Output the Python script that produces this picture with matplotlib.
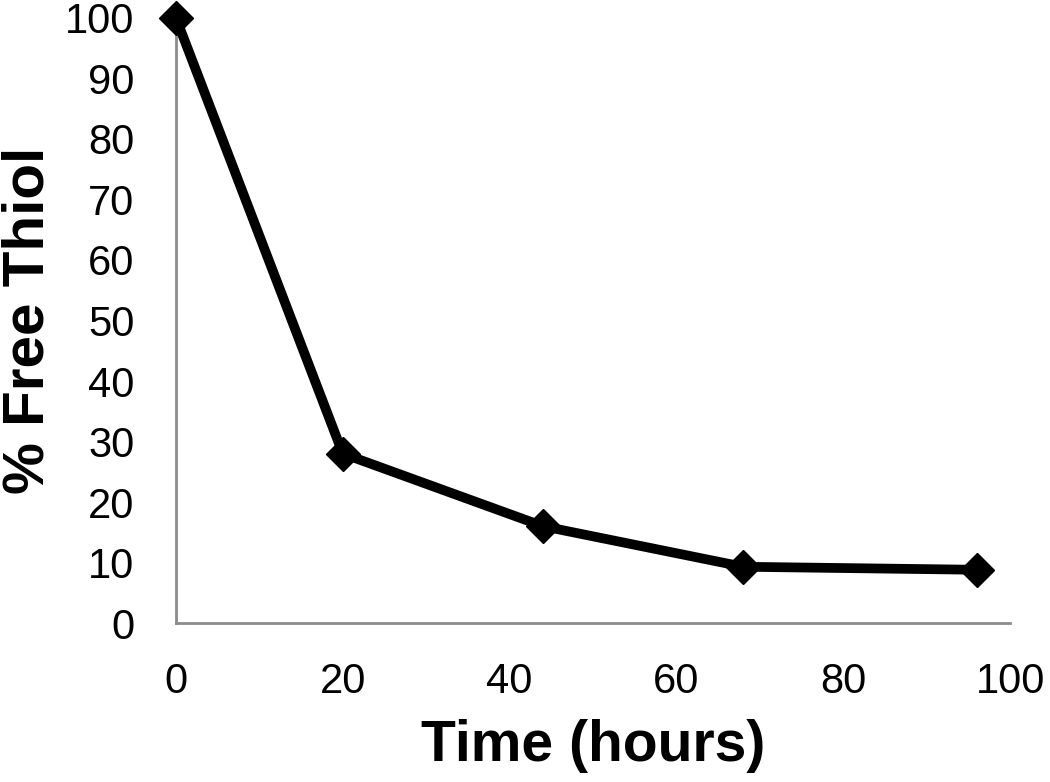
import matplotlib
matplotlib.use('Agg')
import matplotlib.pyplot as plt

# --- data ---
time_hours = [0, 20, 44, 68, 96]
free_thiol = [100, 28, 16, 9.3, 8.8]
x_ticks = [0, 20, 40, 60, 80, 100]
y_ticks = [0, 10, 20, 30, 40, 50, 60, 70, 80, 90, 100]

plt.rcParams['font.family'] = ['Liberation Sans', 'DejaVu Sans']

fig = plt.figure(figsize=(10.5, 7.82), dpi=100)
ax = fig.add_axes([0.1676, 0.2033, 0.7944, 0.7737])

ax.plot(time_hours, free_thiol, color='black', lw=7, marker='D', ms=17,
        clip_on=False, zorder=3)

ax.set_xlim(0, 100)
ax.set_ylim(0, 100)
ax.set_xticks(x_ticks)
ax.set_yticks(y_ticks)
ax.tick_params(axis='both', length=0, labelsize=30)
ax.tick_params(axis='y', pad=30)
ax.tick_params(axis='x', pad=28)

for side in ['top', 'right']:
    ax.spines[side].set_visible(False)
for side in ['left', 'bottom']:
    ax.spines[side].set_color('#8c8c8c')
    ax.spines[side].set_linewidth(2)

ax.set_xlabel('Time (hours)', fontsize=41, fontweight='bold')
ax.set_ylabel('% Free Thiol', fontsize=42, fontweight='bold')
# place the axis titles where the reference has them
ax.xaxis.set_label_coords(0.5, -0.158)
ax.yaxis.set_label_coords(-0.145, 0.5)

fig.savefig('out.png', dpi=100)
